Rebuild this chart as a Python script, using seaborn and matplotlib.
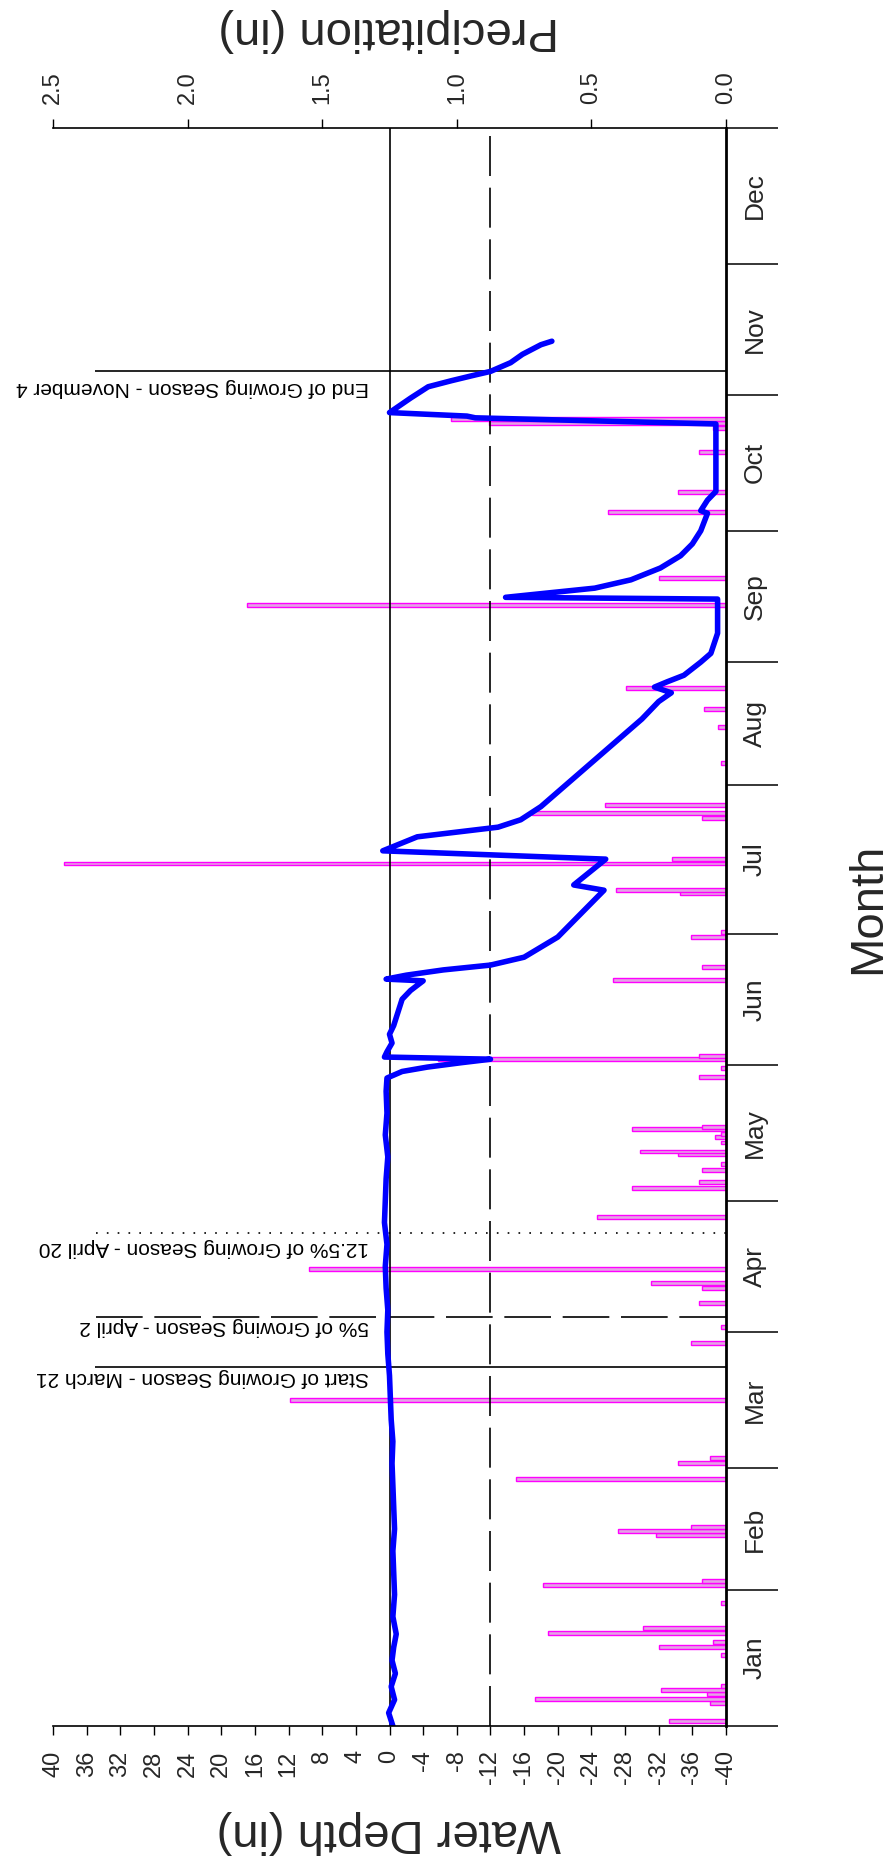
import matplotlib
matplotlib.use("Agg")
import matplotlib.pyplot as plt
import numpy as np
import seaborn as sns
from matplotlib.ticker import FixedLocator, FixedFormatter, NullFormatter

# ---- data -------------------------------------------------------------
months = ["Jan", "Feb", "Mar", "Apr", "May", "Jun",
          "Jul", "Aug", "Sep", "Oct", "Nov", "Dec"]
month_edges = [0, 31, 59, 90, 120, 151, 181, 215, 243, 273, 304, 334, 365]

depth_ticks = list(range(40, -41, -4))
precip_ticks = [0.0, 0.5, 1.0, 1.5, 2.0, 2.5]

# daily precipitation (day of year, inches)
rain_day = [1.1, 5.3, 6.2, 7.3, 8.2, 9.1, 16.2, 18.0, 19.2, 21.2, 22.4, 28.1,
            32.2, 33.1, 43.6, 44.5, 45.4, 56.4, 60.0, 61.2,
            74.5, 87.5,
            91.1, 96.6, 100.0, 101.2, 104.4, 116.3,
            122.9, 124.2, 127.0, 128.4, 130.6, 131.2, 133.3, 134.5, 135.3,
            136.3, 136.8, 148.2, 150.3,
            152.4, 153.1, 170.4, 173.4, 180.2, 181.4,
            190.2, 190.9, 197.0, 198.0, 207.4, 208.5, 210.4,
            220.0, 228.2, 232.3, 237.1,
            256.0, 262.2,
            277.3, 281.9, 291.0, 296.4, 297.7, 298.6]
rain_in = [0.21, 0.06, 0.71, 0.07, 0.24, 0.02, 0.02, 0.25, 0.05, 0.66, 0.31, 0.02,
           0.68, 0.09, 0.26, 0.40, 0.13, 0.78, 0.18, 0.06,
           1.62, 0.13,
           0.02, 0.10, 0.09, 0.28, 1.55, 0.48,
           0.35, 0.10, 0.09, 0.02, 0.18, 0.32, 0.02, 0.04, 0.02,
           0.35, 0.09, 0.10, 0.02,
           1.07, 0.10, 0.42, 0.09, 0.13, 0.02,
           0.17, 0.41, 2.46, 0.20, 0.09, 0.72, 0.45,
           0.02, 0.03, 0.08, 0.37,
           1.78, 0.25,
           0.44, 0.18, 0.10, 0.05, 0.88, 1.02]

# simulated water depth (day of year, inches)
depth_day = [0, 3, 6, 9, 12, 15, 18, 21, 25, 30, 35, 40, 45, 50, 55, 60, 65, 70,
             75, 80, 85, 90, 95, 100, 105, 110, 115, 120, 125, 130, 135, 140,
             145, 148, 149.5, 150.5, 151.5, 152.3, 152.8, 154, 156, 158, 160,
             163, 166, 168, 170.2, 170.6, 171.5, 172.7, 173.8, 175.6, 180.2,
             190.9, 192.1, 198.0, 199.9, 203.1, 205.3, 207, 210, 215, 220, 225,
             230, 234, 236, 237.3, 238.5, 240, 243, 245, 249.6, 257.4, 257.8,
             259.9, 261.8, 264.5, 267.3, 270, 273, 277, 277.6, 280, 282, 297.4,
             298.8, 299.2, 300.0, 303.3, 305.9, 307.3, 308.6, 309.4, 311.4,
             313.3, 315.5, 316.3]
depth = [-0.4, 0.1, -0.6, -0.2, -0.7, -0.3, -0.5, -0.8, -0.4, -0.6, -0.5, -0.4,
         -0.6, -0.5, -0.4, -0.3, -0.4, -0.2, -0.1, 0.0, 0.2, 0.3, 0.2, 0.4, 0.5,
         0.3, 0.6, 0.5, 0.4, 0.2, 0.5, 0.3, 0.4, 0.3, -1.5, -4.5, -8.5, -12.0,
         0.6, 0.3, -0.3, 0.0, -0.5, -1.0, -1.5, -2.5, -4.0, 0.4, -2.0, -6.4,
         -12.0, -16.0, -20.0, -25.5, -21.9, -25.7, 0.8, -3.3, -12.9, -15.6,
         -18.0, -21.0, -24.0, -27.0, -30.0, -32.0, -33.5, -31.5, -33.0, -35.0,
         -37.0, -38.2, -39.0, -39.0, -13.8, -24.4, -28.7, -32.2, -34.6, -36.0,
         -37.0, -37.8, -37.0, -37.8, -38.8, -38.8, -10.2, -9.2, 0.0, -2.5,
         -4.6, -7.4, -10.2, -12.0, -14.4, -15.8, -18.0, -19.3]

# growing-season markers
season_day = [82, 93.5, 112.5, 309.5]
season_text = ["Start of Growing Season - March 21",
               "5% of Growing Season - April 2",
               "12.5% of Growing Season - April 20",
               "End of Growing Season - November 4"]
season_style = ["-", (0, (28, 7)), (0, (1, 5.5)), "-"]
season_offset = [-1, 0, -3, -5]

# ---- style ------------------------------------------------------------
sns.set_theme(style="white")
plt.rcParams["font.family"] = ["Liberation Sans", "DejaVu Sans"]
plt.rcParams["axes.unicode_minus"] = False

W, H = 890, 1862
fig = plt.figure(figsize=(W / 100, H / 100), dpi=100)
x0, x1, y_top, y_bot = 53, 726, 128, 1726
ax = fig.add_axes([x0 / W, 1 - y_bot / H, (x1 - x0) / W, (y_bot - y_top) / H])
ax2 = ax.twiny()

# precipitation bars hang from the right edge
ax2.barh(rain_day, rain_in, height=0.85, left=0, color="#e3a4e3",
         edgecolor="#ff00ff", linewidth=1.0)
ax2.set_xlim(2.5, 0)

ax.set_zorder(ax2.get_zorder() + 1)
ax.patch.set_visible(False)

# reference lines
ax.vlines(0, 0, 365, color="black", lw=1.2)
ax.vlines(-12, 0, 365, color="black", lw=1.2, linestyles=[(0, (24, 7))])
for d, txt, ls, off in zip(season_day, season_text, season_style, season_offset):
    ax.hlines(d, -40, 35, color="black", lw=1.2, linestyles=[ls])
    ax.annotate(txt, xy=(2.4, d), xytext=(0, off), textcoords="offset points",
                rotation=180, ha="right", va="top", fontsize=15, color="black")

sns.lineplot(x=depth, y=depth_day, orient="y", sort=False, estimator=None,
             ax=ax, color="#0000ff", lw=4.0)

ax.set_xlim(40, -40)
ax.set_ylim(0, 365)

# depth axis (bottom)
ax.xaxis.set_major_locator(FixedLocator(depth_ticks))
ax.xaxis.set_major_formatter(FixedFormatter([str(t) for t in depth_ticks]))
ax.tick_params(axis="x", bottom=True, direction="out", length=6.5, width=1,
               labelsize=17, labelrotation=90, pad=11, color="black")
ax.set_xlabel("")
ax.set_ylabel("")

# month axis (right)
ax.yaxis.tick_right()
ax.yaxis.set_major_locator(FixedLocator(month_edges))
ax.yaxis.set_major_formatter(NullFormatter())
centers = [(a + b) / 2 for a, b in zip(month_edges[:-1], month_edges[1:])]
ax.yaxis.set_minor_locator(FixedLocator(centers))
ax.yaxis.set_minor_formatter(FixedFormatter(months))
ax.tick_params(axis="y", which="major", right=True, left=False, direction="out",
               length=37.5, width=1.1, color="black")
ax.tick_params(axis="y", which="minor", right=True, left=False, length=0,
               pad=12, labelsize=19, labelrotation=90)
for lbl in ax.get_yticklabels(minor=True):
    lbl.set_va("center")

for side in ["left", "top"]:
    ax.spines[side].set_visible(False)
ax.spines["bottom"].set_color("black")
ax.spines["bottom"].set_linewidth(1.2)
ax.spines["right"].set_color("black")
ax.spines["right"].set_linewidth(2.0)

# precipitation axis (top)
for side in ["left", "right", "bottom"]:
    ax2.spines[side].set_visible(False)
ax2.spines["top"].set_color("black")
ax2.spines["top"].set_linewidth(1.2)
ax2.xaxis.set_major_locator(FixedLocator(precip_ticks))
ax2.xaxis.set_major_formatter(FixedFormatter([f"{t:.1f}" for t in precip_ticks]))
ax2.tick_params(axis="x", top=True, direction="out", length=6.5, width=1,
                labelsize=17, labelrotation=90, pad=11, color="black")

fig.text(389 / W, 1 - 1832 / H, "Water Depth (in)", rotation=180,
         ha="center", va="center", fontsize=34)
fig.text(389 / W, 1 - 30 / H, "Precipitation (in)", rotation=180,
         ha="center", va="center", fontsize=34)
fig.text(868 / W, 1 - 908 / H, "Month", rotation=90,
         ha="center", va="center", fontsize=34)

fig.savefig("out.png", dpi=100, facecolor="white")
